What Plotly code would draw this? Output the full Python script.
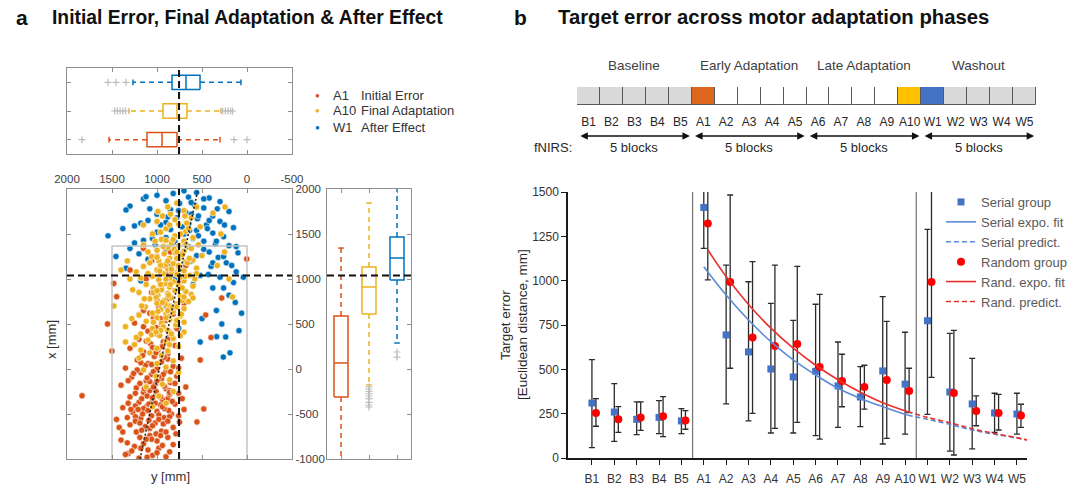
import plotly.graph_objects as go

W, H = 1080, 496
def fx(p): return p / W
def fy(p): return 1 - p / H

FONT = "Liberation Sans, Arial, sans-serif"

# ======================= Panel a : data =======================
groups = ["A1", "A10", "W1"]
group_desc = ["Initial Error", "Final Adaptation", "After Effect"]
group_colors = ["#D95319", "#EDB120", "#0072BD"]

# end points (y [mm], x [mm])
a1_pts = [(1200,-990),(1050,-960),(900,-975),(1320,-940),(1100,-900),(980,-880),(860,-920),(1250,-860),(1150,-830),(1000,-800),
          (1400,-790),(880,-760),(1080,-740),(1230,-700),(950,-690),(820,-650),(1130,-640),(1300,-620),(1020,-600),(750,-590),
          (1450,-560),(1180,-550),(920,-540),(1060,-520),(840,-500),(1270,-480),(1000,-470),(700,-450),(1380,-430),(1120,-420),
          (960,-400),(800,-390),(1200,-370),(1050,-350),(880,-330),(1300,-310),(1833,-297),(990,-290),(760,-270),(1150,-260),
          (1080,-240),(900,-220),(1230,-210),(680,-200),(1400,-180),(1020,-170),(850,-150),(1120,-130),(950,-110),(1280,-90),
          (780,-80),(1060,-60),(1180,-40),(900,-20),(1000,0),(1350,10),(820,30),(1100,60),(950,80),(1220,100),
          (730,120),(1030,140),(880,170),(1150,190),(990,210),(1300,230),(800,260),(1070,280),(930,300),(1200,330),
          (860,360),(1000,390),(1100,420),(780,450),(950,480),(1250,510),(900,540),(1040,570),(820,610),(1150,650),
          (980,690),(700,730),(1448,803),(880,780),(1060,850),(950,900),(760,960),(1120,1000),(870,1060),(1300,1100),
          (680,1150),(3,1222),(1000,1250),(850,1300),(1150,1340),(480,-444),(556,-589),(281,789),(459,600),(400,350),
          (520,100),(1500,200),(1420,-650),(1550,500),(1480,950),(1010,-720),(1170,-680),(930,-610),(1090,-570),(1240,-530),
          (980,-510),(870,-460),(1150,-440),(1020,-380),(940,-340),(1110,-300),(1010,-250),(860,-240),(1190,-160),(1080,-140),
          (930,-60),(1040,-30),(1130,40),(880,110),(1010,180),(940,250),(1120,310),(1010,460),(870,420),(1150,470),
          (1110,-980),(1280,-910),(940,-850),(1060,-780),(1190,-760),(900,-700),(1080,-660),(1240,-580),(980,-560),(860,-530),
          (1160,-500),(1100,-460),(920,-440),(1240,-410),(1090,-390),(830,-360),(1170,-330),(960,-310),(1040,-200),(920,-190),
          (1110,-100),(980,-90),(850,-30),(1220,-10),(1060,50),(920,130),(1160,150),(1050,240),(880,330),(960,560),
          (1080,620),(860,700),(1000,760),(920,1150),(1060,1200),
          (1350,-950),(1000,-930),(1180,-880),(820,-840),(1330,-820),(1120,-780),(960,-740),(1380,-700),(790,-720),(1050,-630),
          (1190,-600),(880,-580),(1330,-540),(760,-520),(1210,-450),(940,-420),(1320,-380),(860,-280),(1240,-270),(1140,-220),
          (800,-160),(1320,-130),(1000,-130),(1260,-50),(760,10),(1180,70),(860,-260),(1050,-320),(1290,-450),(720,-330)]

a10_pts = [(1050,-420),(900,-380),(980,-300),(820,-250),(1120,-200),(940,-170),(860,-120),(1010,-80),(760,-40),(1150,-10),
           (900,20),(1000,60),(820,90),(1200,120),(950,150),(1080,180),(880,200),(1000,230),(760,250),(1250,270),
           (900,290),(1100,320),(820,340),(970,370),(1180,390),(700,410),(880,430),(1050,450),(1350,470),(790,490),
           (950,510),(1120,530),(860,550),(1000,570),(740,590),(1200,600),(900,610),(1050,620),(820,640),(960,660),
           (700,670),(1130,690),(870,700),(780,720),(1000,730),(650,750),(920,760),(1080,780),(840,790),(740,810),
           (990,820),(880,840),(1200,850),(680,860),(800,870),(950,880),(1040,900),(860,910),(600,920),(760,930),
           (1120,940),(900,950),(820,970),(700,980),(980,990),(1300,1000),(860,1010),(740,1020),(1050,1030),(640,1040),
           (930,1060),(800,1070),(700,1090),(1000,1100),(880,1110),(560,1120),(760,1130),(1150,1140),(900,1160),(820,1170),
           (680,1190),(980,1200),(600,1210),(860,1230),(750,1240),(1060,1250),(500,1260),(920,1280),(800,1290),(700,1310),
           (1000,1320),(620,1340),(880,1350),(760,1370),(1150,1380),(840,1400),(700,1420),(950,1440),(600,1460),(800,1480),
           (1050,1500),(680,1530),(900,1560),(520,1580),(760,1610),(1000,1640),(620,1680),(850,1720),(700,1760),(560,1800),
           (780,1844),(1478,700),(1400,1100),(1350,300),(200,1000),(160,800),(250,1300),(1330,1200),(378,1733),(244,1800),
           (290,1500),(330,1150),(830,680),(910,720),(720,760),(1010,800),(850,940),(780,1050),(960,1150),(720,1270),
           (900,1430),(1040,850),(660,1180),(990,640),(870,580),(930,470),(1060,380),(810,1330),(1100,1060),(580,1000),
           (880,650),(780,690),(940,740),(700,800),(870,820),(1000,870),(720,900),(900,1000),(690,1030),(840,1080),
           (970,1090),(760,1150),(880,1200),(640,1230),(1000,1240),(780,1300),(930,1360),(680,1380),(820,1440),(740,1500),
           (960,1520),(860,1600),(670,1620),(800,1660),(940,1700),(900,570),(1040,520),(780,540),(960,430),(840,390),
           (1140,780),(620,830),(1080,1180),
           (1180,210),(860,270),(1230,350),(740,370),(1010,410),(1280,560),(700,520),(1170,700),(600,790),(1270,880),
           (1180,1010),(1230,1080),(560,1060),(1100,1300),(540,1380),(1020,1420),(650,1560),(1150,1600),(990,1750),(880,1800),
           (690,1700),(780,1230),(960,940),(840,1110),(730,610)]

w1_pts = [(700,1980),(560,1960),(820,1950),(1000,1930),(650,1910),(420,1900),(1150,1890),(900,1870),(300,1860),(750,1840),
          (580,1820),(1300,1810),(480,1790),(850,1770),(200,1750),(680,1740),(1000,1720),(380,1700),(780,1680),(550,1670),
          (1100,1650),(300,1640),(900,1630),(650,1610),(450,1600),(1250,1590),(720,1580),(150,1570),(850,1550),(560,1540),
          (1000,1520),(380,1510),(700,1500),(1544,1480),(260,1470),(900,1460),(600,1450),(1150,1430),(480,1420),(800,1410),
          (350,1390),(1020,1380),(200,1370),(650,1360),(1300,1340),(480,1330),(900,1310),(100,1290),(750,1280),(560,1260),
          (1456,1250),(320,1240),(1100,1220),(620,1200),(230,1180),(850,1160),(400,1140),(1344,1120),(700,1100),(120,1080),
          (950,1060),(520,1040),(300,1020),(800,1000),(1180,980),(150,960),(600,940),(380,900),(1050,860),(200,820),
          (700,780),(130,740),(900,700),(340,650),(60,620),(500,560),(280,500),(760,450),(337,359),(237,356),
          (263,133),(89,426),(1200,600),(520,300),(189,180),(1344,1767),(1122,1914),(620,1720),(440,1560),(960,1600),
          (540,1480),(260,1250),(420,1300),(1050,1450),(380,1180),(480,1890),(620,1850),(1080,1780),(330,1780),(760,1760),
          (540,1700),(880,1690),(420,1650),(1180,1620),(250,1600),(1380,1560),(340,1420),(120,1360),(1200,1280),(170,1150),
          (40,1020),(260,900),(430,1050),(1250,1400),(640,1540)]

# box statistics of y [mm] (top panel)
hbox_lo = [300, 289, 67]
hbox_q1 = [778, 667, 522]
hbox_med = [944, 778, 678]
hbox_q3 = [1111, 933, 833]
hbox_hi = [1533, 1311, 1267]
hbox_out = [[1833, 144, 0],
            [1470, 1440, 1410, 1380, 1350, 270, 240, 210, 180, 160],
            [1544, 1456, 1344]]

# box statistics of x [mm] (right panel)
vbox_lo = [-1050, -178, 289]
vbox_q1 = [-311, 611, 989]
vbox_med = [67, 911, 1233]
vbox_q3 = [589, 1133, 1467]
vbox_hi = [1344, 1844, 2100]
vbox_out = [[],
            [-200, -225, -250, -275, -300, -330, -370, -400, -422],
            [189, 133]]

target_y_mm = 755
target_x_mm = 1040
reg_y = [1189, 544]
reg_x = [-1000, 2000]
table_y = [1500, 1500, 0, 0]
table_x = [-1000, 1367, 1367, -1000]

ymm_ticks = [2000, 1500, 1000, 500, 0, -500]
xmm_ticks = [-1000, -500, 0, 500, 1000, 1500, 2000]

# ======================= Panel b : data =======================
blocks = ["B1", "B2", "B3", "B4", "B5", "A1", "A2", "A3", "A4", "A5",
          "A6", "A7", "A8", "A9", "A10", "W1", "W2", "W3", "W4", "W5"]
phase_names = ["Baseline", "Early Adaptation", "Late Adaptation", "Washout"]
phase_first = [0, 5, 10, 15]
phase_last = [4, 9, 14, 19]
cell_colors = ["#D9D9D9"] * 5 + ["#DC661C"] + ["#FFFFFF"] * 8 + ["#FFC000", "#4472C4"] + ["#D9D9D9"] * 4

serial_mean = [310, 259, 218, 229, 209, 1413, 694, 598, 502, 457, 489, 406, 344, 491, 417, 774, 372, 305, 254, 248]
serial_hi = [555, 419, 316, 323, 278, 1700, 1088, 994, 872, 776, 867, 654, 515, 910, 709, 1289, 703, 562, 365, 365]
serial_lo = [58, 94, 132, 137, 137, 1182, 305, 209, 141, 141, 126, 173, 177, 79, 135, 246, 39, 51, 145, 135]
random_mean = [254, 218, 229, 235, 212, 1323, 992, 680, 632, 643, 513, 434, 400, 440, 378, 992, 367, 265, 254, 239]
random_hi = [335, 290, 316, 346, 267, 1700, 1483, 1107, 1088, 1081, 923, 585, 523, 771, 506, 1700, 720, 350, 359, 303]
random_lo = [179, 145, 156, 120, 162, 1004, 506, 252, 167, 201, 107, 289, 276, 111, 256, 455, 17, 182, 158, 173]

serial_fit_x = [5, 6, 7, 8, 9, 10, 11, 12, 13, 14.1]
serial_fit_y = [1079, 919, 778, 656, 553, 468, 393, 336, 289, 242]
random_fit_x = [5.18, 6, 7, 8, 9, 10, 11, 12, 13, 14.1]
random_fit_y = [1174, 1023, 866, 732, 619, 523, 441, 371, 312, 262]
pred_x = [14.1, 15, 16, 17, 18, 19, 19.45]
serial_pred_y = [242, 218, 190, 158, 134, 113, 101]
random_pred_y = [262, 229, 199, 165, 138, 115, 102]
sep_x = [4.5, 14.5]
err_ticks = [0, 250, 500, 750, 1000, 1250, 1500]

# ======================= figure =======================
fig = go.Figure()
FRAME = "#8f8f8f"
TXT = "#404040"

# --- scatter (x2/y2): blue first, then orange, yellow on top
for pts, col in [(w1_pts, group_colors[2]), (a1_pts, group_colors[0]), (a10_pts, group_colors[1])]:
    ys, xs = zip(*pts)
    fig.add_trace(go.Scatter(x=list(ys), y=list(xs), mode="markers", xaxis="x2", yaxis="y2",
                             marker=dict(color=col, size=6.3, line=dict(color="white", width=0.6)),
                             showlegend=False, hoverinfo="skip"))
fig.add_trace(go.Scatter(x=table_y, y=table_x, mode="lines", xaxis="x2", yaxis="y2",
                         line=dict(color="#c4c4c4", width=1.5), showlegend=False, hoverinfo="skip"))
fig.add_trace(go.Scatter(x=reg_y, y=reg_x, mode="lines", xaxis="x2", yaxis="y2",
                         line=dict(color="#222", width=1.5, dash="2px,2px"), showlegend=False, hoverinfo="skip"))
fig.add_trace(go.Scatter(x=[target_y_mm, target_y_mm, None, 2000, -500],
                         y=[-1000, 2000, None, target_x_mm, target_x_mm], mode="lines", xaxis="x2", yaxis="y2",
                         line=dict(color="#111", width=2, dash="7px,4px"), showlegend=False, hoverinfo="skip"))

BW, CW = 0.25, 0.1
# --- top horizontal boxes (x/y)
for i, col in enumerate(group_colors):
    c = i + 1
    q1, q3, md, lo, hi = hbox_q1[i], hbox_q3[i], hbox_med[i], hbox_lo[i], hbox_hi[i]
    fig.add_trace(go.Scatter(x=[q3, hi, None, q1, lo], y=[c, c, None, c, c], mode="lines", xaxis="x", yaxis="y",
                             line=dict(color=col, width=1.5, dash="5px,4px"), showlegend=False, hoverinfo="skip"))
    fig.add_trace(go.Scatter(x=[q1, q3, q3, q1, q1, None, md, md, None, hi, hi, None, lo, lo],
                             y=[c-BW, c-BW, c+BW, c+BW, c-BW, None, c-BW, c+BW, None, c-CW, c+CW, None, c-CW, c+CW],
                             mode="lines", xaxis="x", yaxis="y", line=dict(color=col, width=1.5),
                             showlegend=False, hoverinfo="skip"))
    if hbox_out[i]:
        fig.add_trace(go.Scatter(x=hbox_out[i], y=[c] * len(hbox_out[i]), mode="markers", xaxis="x", yaxis="y",
                                 marker=dict(symbol="cross-thin", size=5, line=dict(color="#bdbdbd", width=1.2)),
                                 showlegend=False, hoverinfo="skip"))
fig.add_trace(go.Scatter(x=[target_y_mm, target_y_mm], y=[0.5, 3.5], mode="lines", xaxis="x", yaxis="y",
                         line=dict(color="#111", width=2, dash="7px,4px"), showlegend=False, hoverinfo="skip"))

# --- right vertical boxes (x3/y3)
for i, col in enumerate(group_colors):
    c = i + 1
    q1, q3, md, lo, hi = vbox_q1[i], vbox_q3[i], vbox_med[i], vbox_lo[i], vbox_hi[i]
    fig.add_trace(go.Scatter(y=[q3, hi, None, q1, lo], x=[c, c, None, c, c], mode="lines", xaxis="x3", yaxis="y3",
                             line=dict(color=col, width=1.5, dash="5px,4px"), showlegend=False, hoverinfo="skip"))
    fig.add_trace(go.Scatter(y=[q1, q3, q3, q1, q1, None, md, md, None, hi, hi, None, lo, lo],
                             x=[c-BW, c-BW, c+BW, c+BW, c-BW, None, c-BW, c+BW, None, c-CW, c+CW, None, c-CW, c+CW],
                             mode="lines", xaxis="x3", yaxis="y3", line=dict(color=col, width=1.5),
                             showlegend=False, hoverinfo="skip"))
    if vbox_out[i]:
        fig.add_trace(go.Scatter(y=vbox_out[i], x=[c] * len(vbox_out[i]), mode="markers", xaxis="x3", yaxis="y3",
                                 marker=dict(symbol="cross-thin", size=5, line=dict(color="#bdbdbd", width=1.2)),
                                 showlegend=False, hoverinfo="skip"))
fig.add_trace(go.Scatter(x=[0.5, 3.5], y=[target_x_mm, target_x_mm], mode="lines", xaxis="x3", yaxis="y3",
                         line=dict(color="#111", width=2, dash="7px,4px"), showlegend=False, hoverinfo="skip"))

# --- phase bar (x5/y5)
fig.add_trace(go.Bar(x=list(range(len(blocks))), y=[1] * len(blocks), width=1, xaxis="x5", yaxis="y5",
                     marker=dict(color=cell_colors, line=dict(color="#595959", width=1)),
                     showlegend=False, hoverinfo="skip"))

# --- panel b (x4/y4)
idx = list(range(len(blocks)))
sep_xs, sep_ys = [], []
for s in sep_x:
    sep_xs += [s, s, None]
    sep_ys += [0, 1500, None]
fig.add_trace(go.Scatter(x=sep_xs, y=sep_ys, mode="lines", xaxis="x4", yaxis="y4",
                         line=dict(color="#7a7a7a", width=1.3), showlegend=False, hoverinfo="skip"))

ERR = dict(type="data", color="#2b2b2b", thickness=1.3, width=3)
fig.add_trace(go.Scatter(x=idx, y=serial_mean, mode="markers", xaxis="x4", yaxis="y4", name="Serial group",
                         marker=dict(symbol="square", size=7, color="#4472C4"), legendrank=1,
                         error_y=dict(ERR, array=[h - m for h, m in zip(serial_hi, serial_mean)],
                                      arrayminus=[m - l for m, l in zip(serial_mean, serial_lo)])))
fig.add_trace(go.Scatter(x=[i + 0.18 for i in idx], y=random_mean, mode="markers", xaxis="x4", yaxis="y4",
                         name="Random group", marker=dict(symbol="circle", size=8, color="#FF0000"), legendrank=4,
                         error_y=dict(ERR, array=[h - m for h, m in zip(random_hi, random_mean)],
                                      arrayminus=[m - l for m, l in zip(random_mean, random_lo)])))
fig.add_trace(go.Scatter(x=serial_fit_x, y=serial_fit_y, mode="lines", xaxis="x4", yaxis="y4", name="Serial expo. fit",
                         line=dict(color="#5B8BD6", width=1.6, shape="spline"), legendrank=2))
fig.add_trace(go.Scatter(x=pred_x, y=serial_pred_y, mode="lines", xaxis="x4", yaxis="y4", name="Serial predict.",
                         line=dict(color="#5B8BD6", width=1.6, dash="5px,3px", shape="spline"), legendrank=3))
fig.add_trace(go.Scatter(x=random_fit_x, y=random_fit_y, mode="lines", xaxis="x4", yaxis="y4", name="Rand. expo. fit",
                         line=dict(color="#E8302E", width=1.6, shape="spline"), legendrank=5))
fig.add_trace(go.Scatter(x=pred_x, y=random_pred_y, mode="lines", xaxis="x4", yaxis="y4", name="Rand. predict.",
                         line=dict(color="#E8302E", width=1.6, dash="5px,3px", shape="spline"), legendrank=6))

# ======================= axes =======================
def frame_axis(**kw):
    base = dict(showline=True, linecolor=FRAME, linewidth=1.2, mirror="ticks", ticks="inside", ticklen=4,
                tickcolor=FRAME, tickwidth=1, showgrid=False, zeroline=False, tickangle=0,
                tickfont=dict(size=11.5, color=TXT, family=FONT))
    base.update(kw)
    return base

a_x_dom = [fx(67), fx(292)]
a_y_dom = [fy(459), fy(189)]
fig.update_layout(
    xaxis=frame_axis(domain=a_x_dom, anchor="y", range=[2000, -500], tickvals=ymm_ticks[1:-1], showticklabels=False),
    yaxis=frame_axis(domain=[fy(154), fy(68)], anchor="x", range=[0.5, 3.5], tickvals=[1, 2, 3], showticklabels=False),
    xaxis2=frame_axis(domain=a_x_dom, anchor="y2", side="top", range=[2000, -500], tickvals=ymm_ticks,
                      ticktext=[str(v) for v in ymm_ticks]),
    yaxis2=frame_axis(domain=a_y_dom, anchor="x2", side="right", range=[-1000, 2000], tickvals=xmm_ticks,
                      ticktext=[str(v) for v in xmm_ticks]),
    xaxis3=frame_axis(domain=[fx(327), fx(411)], anchor="y3", range=[0.5, 3.5], tickvals=[1, 2, 3], showticklabels=False),
    yaxis3=frame_axis(domain=a_y_dom, anchor="x3", side="right", range=[-1000, 2000], tickvals=xmm_ticks,
                      showticklabels=False, mirror=True),
    xaxis4=dict(domain=[fx(568), fx(1027)], anchor="y4", range=[-1.07, 19.45], tickvals=idx, ticktext=blocks,
                showline=True, linecolor="#1a1a1a", linewidth=1.5, ticks="outside", ticklen=5, tickwidth=1.3,
                tickcolor="#1a1a1a", showgrid=False, zeroline=False, tickangle=0, ticklabelstandoff=4,
                tickfont=dict(size=12, color="#333", family=FONT)),
    yaxis4=dict(domain=[fy(458), fy(192)], anchor="x4", range=[0, 1500], tickvals=err_ticks,
                ticktext=[str(v) for v in err_ticks],
                showline=True, linecolor="#1a1a1a", linewidth=1.5, ticks="outside", ticklen=5, tickwidth=1.3,
                tickcolor="#1a1a1a", showgrid=False, zeroline=False,
                tickfont=dict(size=12, color="#333", family=FONT)),
    xaxis5=dict(domain=[fx(577), fx(1036)], anchor="y5", range=[-0.5, 19.5], tickvals=idx, ticktext=blocks,
                showline=False, ticks="outside", ticklen=6, tickcolor="rgba(0,0,0,0)", showgrid=False,
                zeroline=False, tickangle=0, tickfont=dict(size=12, color="#262626", family=FONT)),
    yaxis5=dict(domain=[fy(105), fy(87)], anchor="x5", range=[0, 1], visible=False),
)

# ======================= annotations =======================
ann = []
def text(x, y, s, size=13, bold=False, color="#262626", xanchor="center", angle=0, xref="paper"):
    ann.append(dict(x=x, y=y, xref=xref, yref="paper", text=f"<b>{s}</b>" if bold else s, showarrow=False,
                    xanchor=xanchor, yanchor="middle", textangle=angle,
                    font=dict(size=size, color=color, family=FONT)))

text(fx(22), fy(17), "a", size=21, bold=True, color="#111")
text(fx(50), fy(17), "Initial Error, Final Adaptation &amp; After Effect", size=19.3, bold=True, color="#111", xanchor="left")
text(fx(520), fy(17), "b", size=21, bold=True, color="#111")
text(fx(556), fy(17), "Target error across motor adaptation phases", size=20.3, bold=True, color="#111", xanchor="left")

text(fx(51), fy(340), "x [mm]", size=13, color="#333", angle=-90)
text(fx(170), fy(476), "y [mm]", size=13, color="#333")

for i, (g, d, col) in enumerate(zip(groups, group_desc, group_colors)):
    yy = fy(95 + 16 * i)
    text(fx(317), yy, "●", size=8, color=col)
    text(fx(331), yy, g, size=13, color="#333", xanchor="left")
    text(fx(359), yy, d, size=13, color="#333", xanchor="left")

text(fx(505), fy(325), "Target error", size=13.5, color="#262626", angle=-90)
text(fx(522), fy(325), "[Euclidean distance, mm]", size=13.5, color="#262626", angle=-90)

for name, a, b in zip(phase_names, phase_first, phase_last):
    mid = (a + b) / 2
    text(mid, fy(65), name, size=13.5, color="#404040", xref="x5")
    text(mid, fy(147), "5 blocks", size=13, color="#262626", xref="x5")
    ann.append(dict(x=b + 0.42, y=fy(136), xref="x5", yref="paper", ax=a - 0.42, ay=0, axref="x5", ayref="pixel",
                    text="", showarrow=True, arrowhead=2, arrowside="end+start", arrowsize=1,
                    arrowwidth=1.5, arrowcolor="#111", standoff=0, startstandoff=0))
text(fx(574), fy(147), "fNIRS:", size=13, color="#262626", xanchor="right")

fig.update_layout(
    annotations=ann,
    width=W, height=H, margin=dict(l=0, r=0, t=0, b=0, autoexpand=False),
    paper_bgcolor="white", plot_bgcolor="white",
    font=dict(family=FONT, size=12, color="#333"),
    bargap=0,
    legend=dict(x=fx(941), y=fy(187), xanchor="left", yanchor="top", bgcolor="rgba(0,0,0,0)",
                font=dict(size=13, color="#595959", family=FONT), itemwidth=30, tracegroupgap=0,
                traceorder="normal"),
)

fig.write_html("out.html")
